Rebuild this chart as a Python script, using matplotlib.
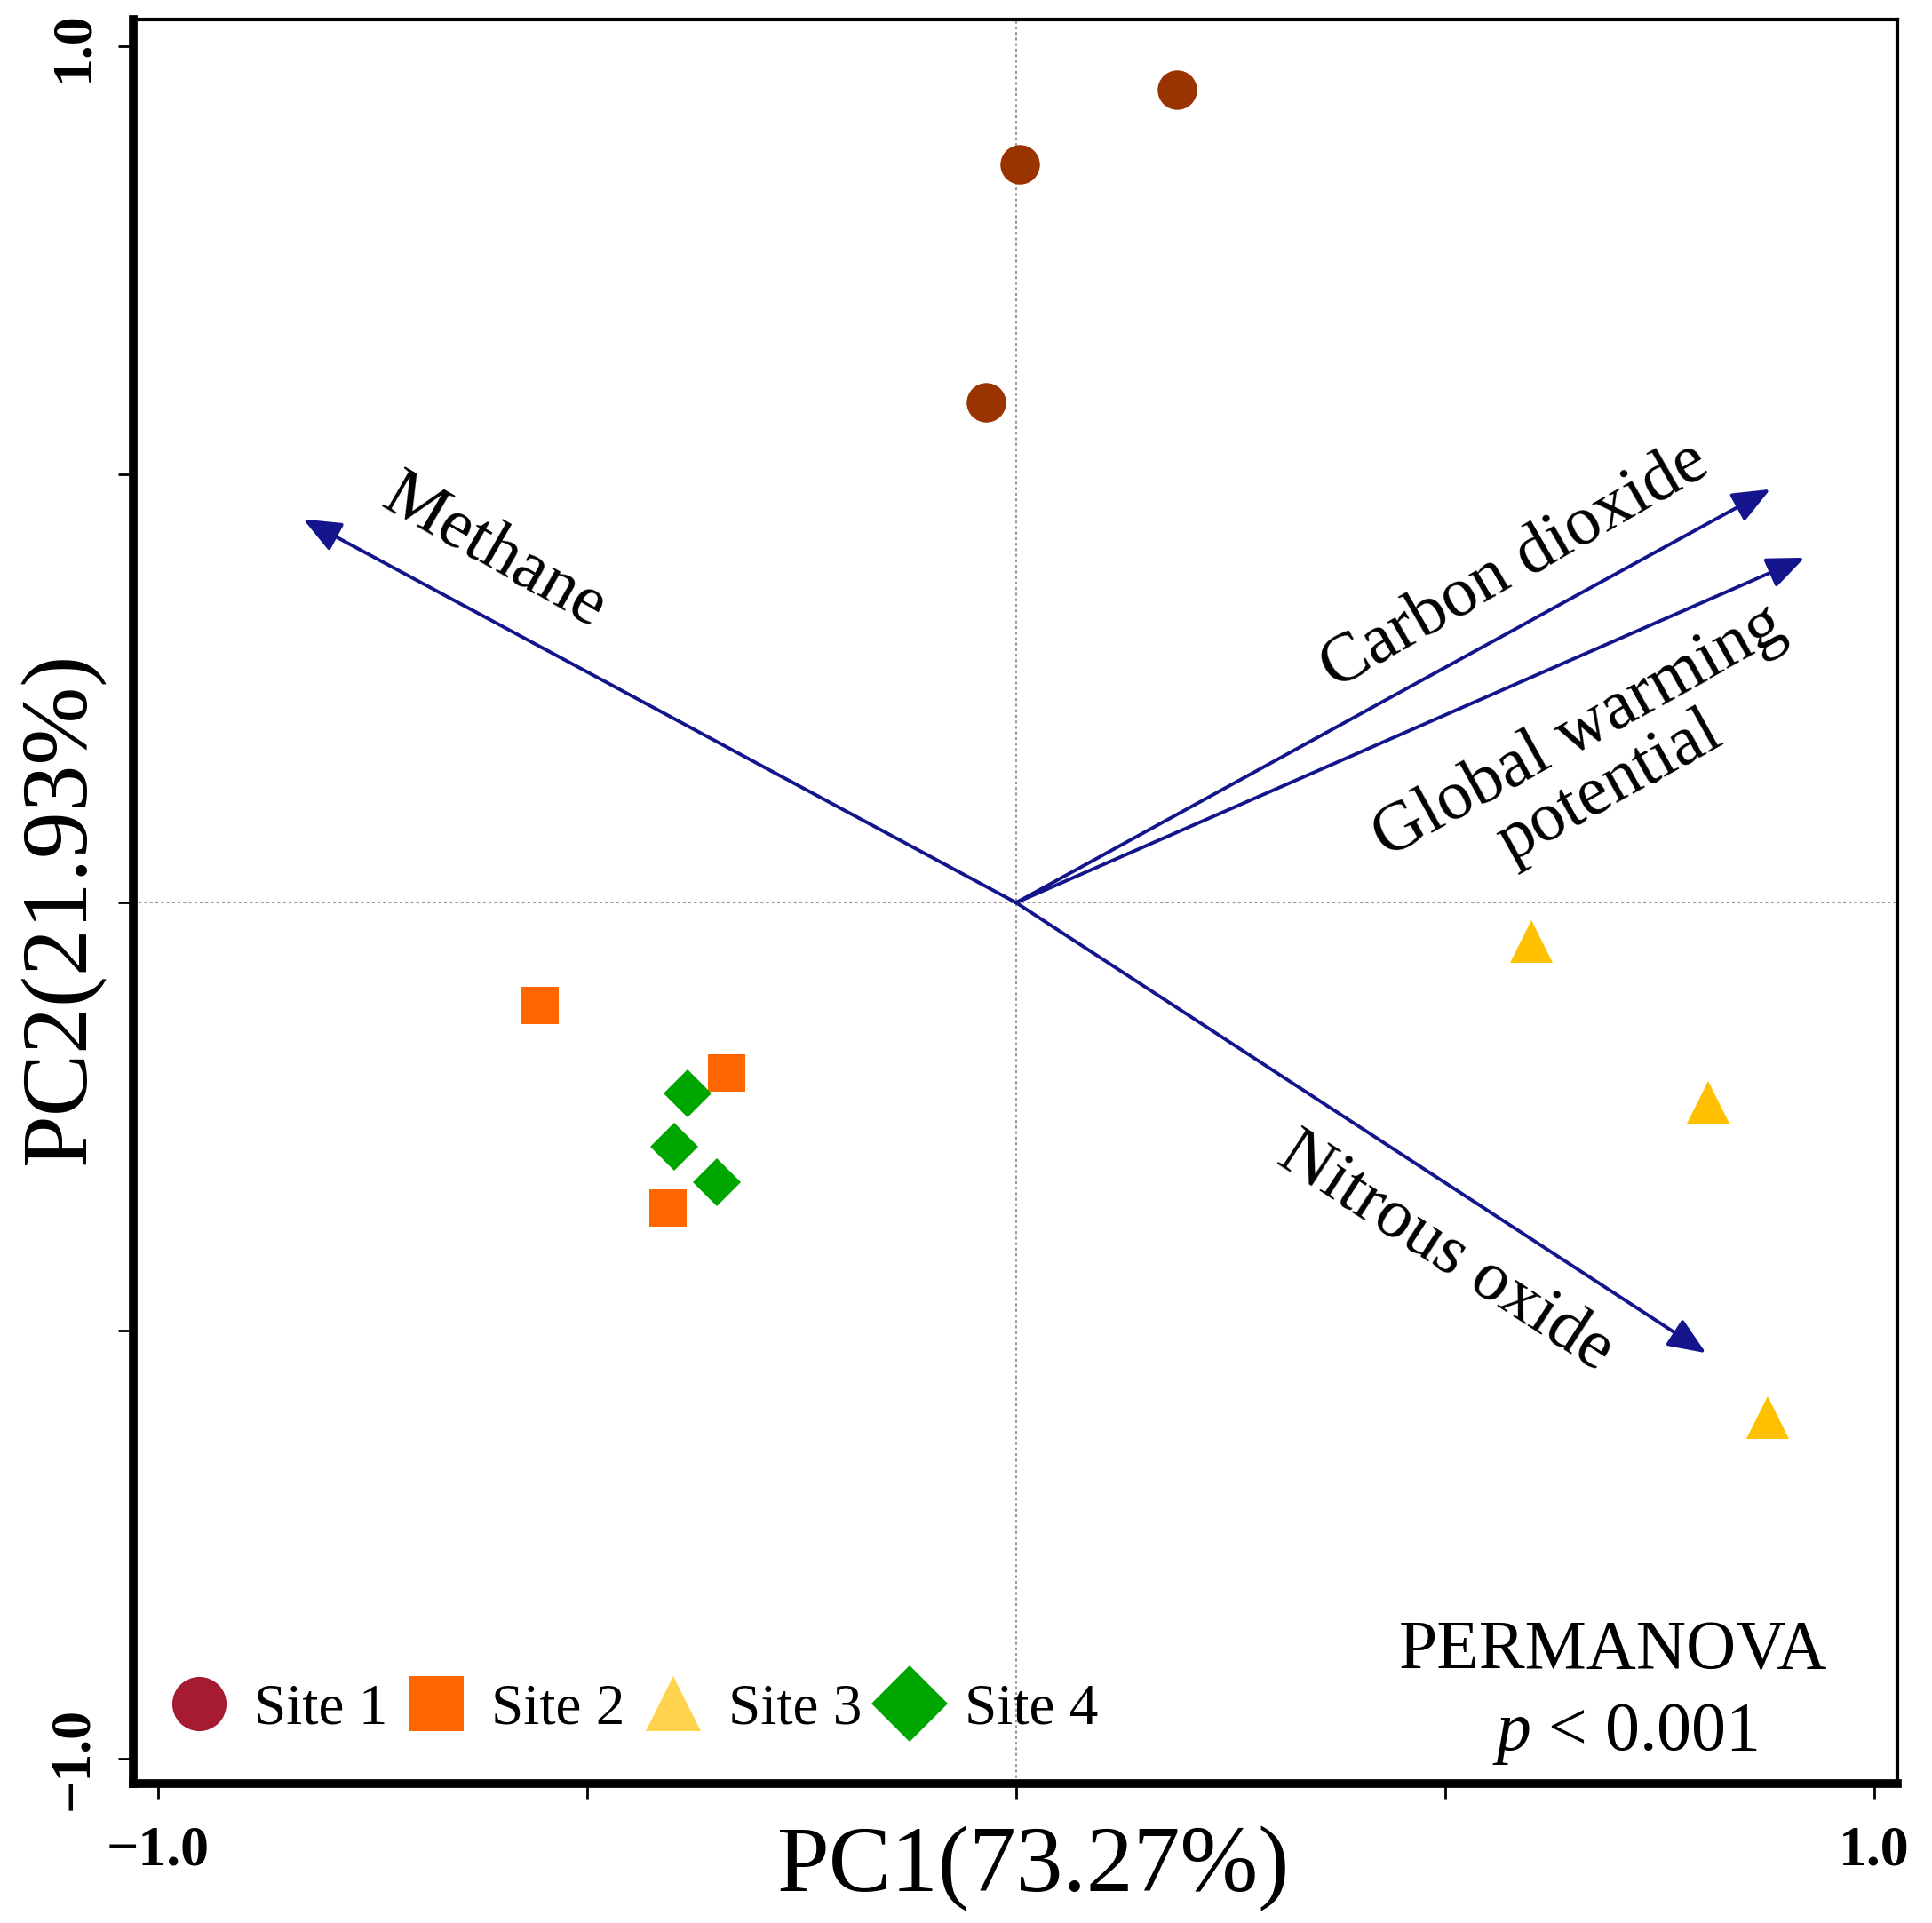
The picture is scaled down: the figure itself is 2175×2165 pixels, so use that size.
import matplotlib
matplotlib.use("Agg")
import matplotlib.pyplot as plt
from matplotlib.lines import Line2D

plt.rcParams['font.family'] = ['Liberation Serif', 'DejaVu Serif']
plt.rcParams['mathtext.fontset'] = 'custom'
plt.rcParams['mathtext.it'] = 'Liberation Serif:italic'
plt.rcParams['mathtext.rm'] = 'Liberation Serif'

# ---- data ----
site_names = ["Site 1", "Site 2", "Site 3", "Site 4"]
site1_x = [0.187, 0.004, -0.035]
site1_y = [0.950, 0.863, 0.584]
site2_x = [-0.555, -0.337, -0.406]
site2_y = [-0.120, -0.199, -0.357]
site3_x = [0.601, 0.807, 0.876]
site3_y = [-0.045, -0.233, -0.601]
site4_x = [-0.383, -0.399, -0.349]
site4_y = [-0.223, -0.285, -0.327]

vec_names = ["Methane", "Carbon dioxide", "Global warming\npotential", "Nitrous oxide"]
vec_x = [-0.831, 0.879, 0.919, 0.804]
vec_y = [0.448, 0.483, 0.403, -0.526]

x_ticks = [-1.0, -0.5, 0.0, 0.5, 1.0]
x_ticklabels = ["\u22121.0", "", "", "", "1.0"]
y_ticks = [-1.0, -0.5, 0.0, 0.5, 1.0]
y_ticklabels = ["\u22121.0", "", "", "", "1.0"]
xlabel = "PC1(73.27%)"
ylabel = "PC2(21.93%)"

# ---- styles ----
point_colors = ["#993300", "#FF6600", "#FFC000", "#00A600"]
legend_colors = ["#A51C32", "#FF6600", "#FFD34D", "#00A600"]
markers = ["o", "s", "^", "D"]
msizes = [32, 30, 35, 28]
arrow_color = "#14148C"

fig = plt.figure(figsize=(21.75, 21.65), dpi=100)
ax = fig.add_axes([0.069, 0.0725, 0.913, 0.9175])
ax.set_xlim(-1.029, 1.027)
ax.set_ylim(-1.029, 1.032)

ax.axhline(0, color="#9a9a9a", lw=1.5, ls=(0, (1.5, 1.5)), zorder=1)
ax.axvline(0, color="#9a9a9a", lw=1.5, ls=(0, (1.5, 1.5)), zorder=1)

xs = [site1_x, site2_x, site3_x, site4_x]
ys = [site1_y, site2_y, site3_y, site4_y]
for x, y, c, m, s in zip(xs, ys, point_colors, markers, msizes):
    ax.plot(x, y, ls="none", marker=m, markersize=s, color=c, markeredgewidth=0, zorder=3)

for vx, vy in zip(vec_x, vec_y):
    ax.annotate("", xy=(vx, vy), xytext=(0, 0),
                arrowprops=dict(arrowstyle="-|>,head_length=0.65,head_width=0.27",
                                color=arrow_color, lw=2.8, mutation_scale=40,
                                shrinkA=0, shrinkB=0), zorder=2)

label_pos = [(-0.608, 0.409, -30), (0.581, 0.393, 30), (0.674, 0.167, 29), (0.501, -0.409, -33)]
for name, (tx, ty, rot) in zip(vec_names, label_pos):
    ax.text(tx, ty, name, rotation=rot, rotation_mode="anchor", ha="center", va="center",
            fontsize=57, multialignment="center", linespacing=1.0)

ax.text(0.696, -0.875, "PERMANOVA", fontsize=56, ha="center", va="center")
ax.text(0.710, -0.971, r"$\it{p}$ < 0.001", fontsize=56, ha="center", va="center")

handles = [Line2D([], [], ls="none", marker=m, markersize=44, color=c, markeredgewidth=0)
           for m, c in zip(markers, legend_colors)]
ax.legend(handles, site_names, loc="center left", bbox_to_anchor=(0.021, 0.042), ncol=4,
          frameon=False, fontsize=47, handlelength=1.0, handletextpad=0.45,
          columnspacing=0.33, borderpad=0, borderaxespad=0)

ax.set_xticks(x_ticks)
ax.set_xticklabels(x_ticklabels, fontsize=46, fontweight="bold")
ax.set_yticks(y_ticks)
ax.set_yticklabels(y_ticklabels, fontsize=46, fontweight="bold", rotation=90, va="center")
ax.tick_params(axis="both", direction="out", length=12, width=2)
ax.tick_params(axis="x", pad=22)
ax.tick_params(axis="y", pad=15)

ax.spines["left"].set_linewidth(7)
ax.spines["bottom"].set_linewidth(7)
ax.spines["top"].set_linewidth(3)
ax.spines["right"].set_linewidth(3)

fig.text(0.535, 0.028, xlabel, fontsize=76, ha="center", va="center")
fig.text(0.032, 0.528, ylabel, fontsize=76, ha="center", va="center", rotation=90)

fig.savefig("out.png", dpi=100)
